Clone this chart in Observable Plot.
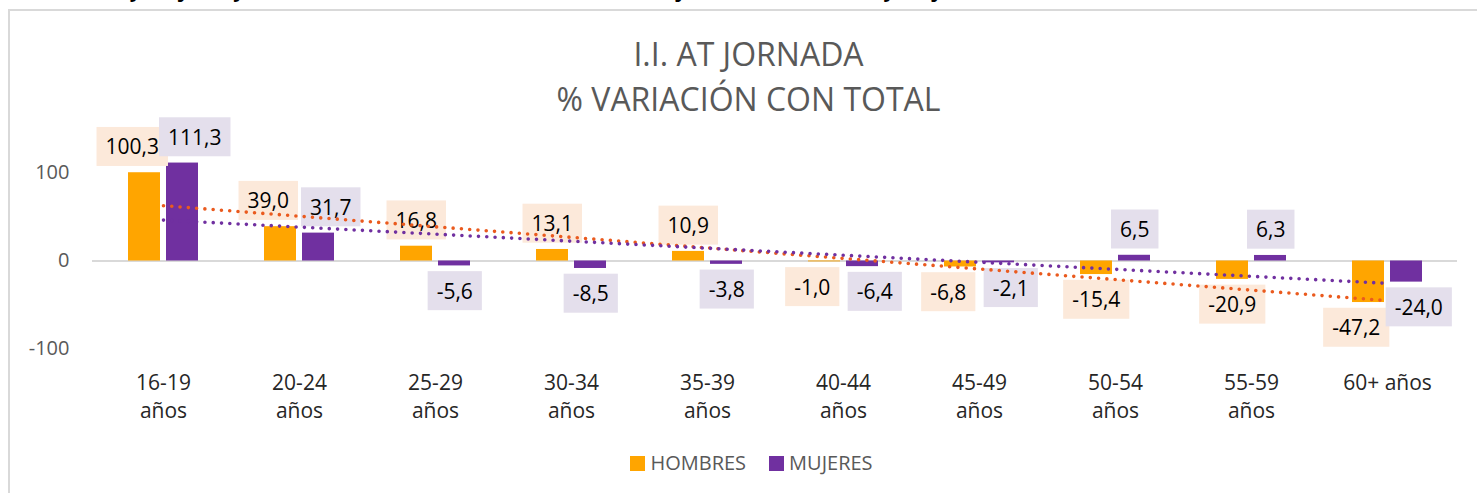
<!DOCTYPE html>
<html>
<head>
<meta charset="utf-8">
<script src="https://cdn.jsdelivr.net/npm/d3@7"></script>
<script src="https://cdn.jsdelivr.net/npm/@observablehq/plot@0.6"></script>
<style>
  html, body { margin: 0; padding: 0; background: #fff; }
  body { width: 1477px; height: 493px; overflow: hidden; position: relative; font-family: "Open Sans", sans-serif; }
  #hdr { position: absolute; left: 36px; top: -20.5px; font: bold 20px "Open Sans", sans-serif; line-height: 20px; color: #000; white-space: nowrap; }
  #frame { position: absolute; left: 8px; top: 9px; width: 1480px; height: 500px; border-left: 2px solid #D9D9D9; border-top: 2px solid #D9D9D9; }
  .ttl { position: absolute; left: 0; width: 1497px; text-align: center; font-size: 32px; line-height: 40px; color: #595959; white-space: nowrap; }
  #chart { position: absolute; left: 0; top: 0; }
  #legend { position: absolute; top: 451px; left: 0; width: 1477px; display: flex; justify-content: center; gap: 23px; font-size: 20px; color: #595959; line-height: 24px; padding-left: 26px; box-sizing: border-box; }
  #legend span.item { display: inline-flex; align-items: center; }
  #legend span.sw { display: inline-block; width: 15px; height: 15px; margin-right: 5px; }
</style>
</head>
<body>
<div id="hdr">hombres y mujeres y en el índice de incidencia de accidentes en jornada en hombres y mujeres</div>
<div id="frame"></div>
<div class="ttl" style="top:34px">I.I. AT JORNADA</div>
<div class="ttl" style="top:79px">% VARIACIÓN CON TOTAL</div>
<div id="chart"></div>
<div id="legend">
  <span class="item"><span class="sw" style="background:#FFA500"></span>HOMBRES</span>
  <span class="item"><span class="sw" style="background:#7030A0"></span>MUJERES</span>
</div>
<script>
// ---- data ----
const categories = ["16-19 años", "20-24 años", "25-29 años", "30-34 años", "35-39 años",
                    "40-44 años", "45-49 años", "50-54 años", "55-59 años", "60+ años"];
const hombres = [100.3, 39.0, 16.8, 13.1, 10.9, -1.0, -6.8, -15.4, -20.9, -47.2];
const mujeres = [111.3, 31.7, -5.6, -8.5, -3.8, -6.4, -2.1, 6.5, 6.3, -24.0];
const yTicks = [-100, 0, 100];
const seriesNames = ["HOMBRES", "MUJERES"];

// ---- derived tables ----
const rows = categories.map((c, i) => ({cat: c, i, h: hombres[i], m: mujeres[i]}));

function linFit(vals) {
  const n = vals.length;
  const xm = (n - 1) / 2;
  const ym = d3.mean(vals);
  let sxy = 0, sxx = 0;
  vals.forEach((v, i) => { sxy += (i - xm) * (v - ym); sxx += (i - xm) ** 2; });
  const b = sxy / sxx, a = ym - b * xm;
  return vals.map((_, i) => a + b * i);
}
const trendH = linFit(hombres);
const trendM = linFit(mujeres);
const trendRows = rows.map((r, i) => ({cat: r.cat, th: trendH[i], tm: trendM[i]}));

const fmt = v => v.toFixed(1).replace(".", ",");
const sameSide = r => (r.h >= 0) === (r.m >= 0);
const catLabel = c => c.includes("-") ? c.replace(" ", "\n") : c;

const orange = "#FFA500", purple = "#7030A0";
const trendOrange = "#EA5A1E";

const svg = Plot.plot({
  width: 1477,
  height: 400,
  marginLeft: 92,
  marginRight: 20,
  marginTop: 128.5,
  marginBottom: 51.5,
  style: {fontFamily: "'Open Sans', sans-serif", fontSize: "20px", color: "#595959", background: "transparent", overflow: "visible"},
  x: {domain: categories, padding: 0, axis: null},
  y: {domain: [-100, 150], ticks: yTicks, tickSize: 0, tickPadding: 23, tickFormat: d => String(d), label: null},
  marks: [
    Plot.ruleY([0], {stroke: "#D9D9D9", strokeWidth: 2}),
    Plot.barY(rows, {x: "cat", y: "h", fill: orange, insetLeft: 33, insetRight: 71}),
    Plot.barY(rows, {x: "cat", y: "m", fill: purple, insetLeft: 71, insetRight: 33}),
    Plot.text(rows, {x: "cat", y: "h", text: r => fmt(r.h), fontSize: 21, fill: "#000", lineAnchor: "middle"}),
    Plot.text(rows, {x: "cat", y: "m", text: r => fmt(r.m), fontSize: 21, fill: "#000", lineAnchor: "middle"}),
    Plot.text(rows, {
      x: "cat", frameAnchor: "bottom", text: r => catLabel(r.cat),
      lineAnchor: "top", dy: 21, lineHeight: 1.33, fontSize: 21, fill: "#262626"
    }),
    Plot.line(trendRows, {x: "cat", y: "th", stroke: trendOrange, strokeWidth: 3.6, strokeDasharray: "0 8.3", strokeLinecap: "round"}),
    Plot.line(trendRows, {x: "cat", y: "tm", stroke: purple, strokeWidth: 3.6, strokeDasharray: "0 8.3", strokeLinecap: "round"})
  ]
});

document.getElementById("chart").append(svg);

// position data labels (outside end, nudged apart when both on same side) and add label boxes
const NS = "http://www.w3.org/2000/svg";
const half = 19.25;
const textGroups = Array.from(svg.querySelectorAll('g[aria-label="text"]'));
[[textGroups[0], "h", -1, "#FCE9DA"], [textGroups[1], "m", 1, "#E4DFEC"]].forEach(([g, key, side, bg]) => {
  if (!g) return;
  const texts = Array.from(g.querySelectorAll("text"));
  texts.forEach((t, k) => {
    const r = rows[k];
    const v = r[key];
    const dx = side * (half + (sameSide(r) ? 12 : 0));
    const dy = v >= 0 ? -25 : 26;
    const tr = t.getAttribute("transform") || "";
    t.setAttribute("transform", (tr + ` translate(${dx},${dy})`).trim());
    const b = t.getBBox();
    const rect = document.createElementNS(NS, "rect");
    rect.setAttribute("x", b.x - 9);
    rect.setAttribute("y", b.y + b.height / 2 - 19.5);
    rect.setAttribute("width", b.width + 18);
    rect.setAttribute("height", 39);
    rect.setAttribute("fill", bg);
    rect.setAttribute("transform", t.getAttribute("transform"));
    g.insertBefore(rect, t);
  });
});
</script>
</body>
</html>
